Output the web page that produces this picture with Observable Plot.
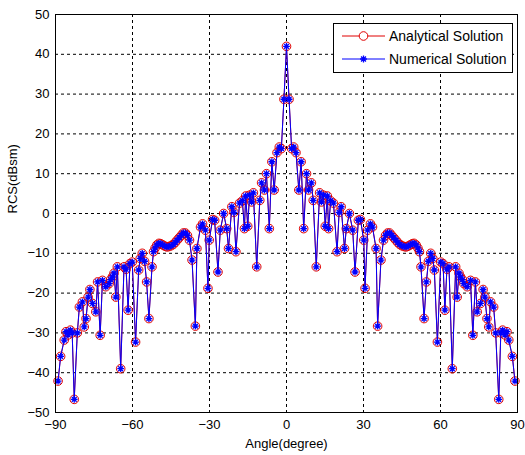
<!DOCTYPE html>
<html>
<head>
<meta charset="utf-8">
<script src="https://cdn.jsdelivr.net/npm/d3@7"></script>
<script src="https://cdn.jsdelivr.net/npm/@observablehq/plot@0.6"></script>
<style>
  html, body { margin: 0; padding: 0; background: #ffffff; }
  #chart { width: 525px; height: 455px; }
</style>
</head>
<body>
<div id="chart"></div>
<script>
// ---- data (symmetric pattern) ----
const anglesLeft = [-89, -88, -86.6, -85.9, -85.1, -84.2, -83.5, -82.7, -81.5, -80.7, -79.5, -78.8, -78.1, -77.3, -76.6, -75.6, -74.3, -73.6, -72.6, -71.7, -70.4, -69.1, -68.5, -67.8, -67.2, -66.5, -65.9, -64.6, -63.3, -62.5, -61.7, -61, -60.1, -58.8, -57.6, -57, -56.2, -55.3, -54.5, -53.6, -52.4, -51.8, -51.2, -50.5, -49.7, -49, -48.2, -47.4, -46.6, -45.8, -45, -44.2, -43.4, -42.6, -41.8, -41, -40.2, -39.4, -38.6, -37.8, -36.8, -35.5, -34.9, -33.5, -32.7, -31.6, -30.6, -30.1, -28.8, -28, -26.7, -25.8, -24.5, -23.3, -22.6, -21.3, -20.5, -19.7, -18.3, -17.2, -16.4, -15.9, -15.1, -14.4, -13.6, -12.9, -11.6, -10.4, -9.7, -8.6, -7.8, -6.7, -5.7, -4.8, -3.7, -2.8, -2, -1];
const rcsLeft = [-42.1, -35.9, -31.8, -29.7, -30.5, -29.3, -30, -46.7, -30, -23.5, -22.2, -28.5, -26.4, -21, -19.1, -22.6, -24.7, -17.2, -30.6, -16.8, -18.4, -17.6, -16.6, -15.9, -15, -21, -13.4, -39, -13.4, -14, -24.3, -12.6, -12.2, -32.3, -14.2, -11.3, -10, -12, -17.2, -26.4, -13.4, -9.6, -8.7, -7.9, -7.5, -7.6, -7.9, -8.2, -8.4, -8.3, -8.1, -7.8, -7.3, -6.7, -6.1, -5.5, -4.9, -4.9, -5.5, -6.7, -11.7, -28.3, -8.8, -3.4, -2.6, -4.2, -18.8, -6.7, -1.5, -1.7, -14.7, -4.2, 0, -3.8, -8.8, 1.7, 0.3, -9.6, 2.6, 3.2, -3.8, 4.4, -3.2, 4.6, 2.9, 5.2, -13.4, 3.3, 7.7, 5.9, 10, -3.8, 13, 5.9, 15.3, 16.7, 16.3, 28.7];
const anglesCenter = [0];
const rcsCenter = [42];
const anglesRight = [1, 2, 2.8, 3.7, 4.8, 5.7, 6.7, 7.8, 8.6, 9.7, 10.4, 11.6, 12.9, 13.6, 14.4, 15.1, 15.9, 16.4, 17.2, 18.3, 19.7, 20.5, 21.3, 22.6, 23.3, 24.5, 25.8, 26.7, 28, 28.8, 30.1, 30.6, 31.6, 32.7, 33.5, 34.9, 35.5, 36.8, 37.8, 38.6, 39.4, 40.2, 41, 41.8, 42.6, 43.4, 44.2, 45, 45.8, 46.6, 47.4, 48.2, 49, 49.7, 50.5, 51.2, 51.8, 52.4, 53.6, 54.5, 55.3, 56.2, 57, 57.6, 58.8, 60.1, 61, 61.7, 62.5, 63.3, 64.6, 65.9, 66.5, 67.2, 67.8, 68.5, 69.1, 70.4, 71.7, 72.6, 73.6, 74.3, 75.6, 76.6, 77.3, 78.1, 78.8, 79.5, 80.7, 81.5, 82.7, 83.5, 84.2, 85.1, 85.9, 86.6, 88, 89];
const rcsRight = [28.7, 16.3, 16.7, 15.3, 5.9, 13, -3.8, 10, 5.9, 7.7, 3.3, -13.4, 5.2, 2.9, 4.6, -3.2, 4.4, -3.8, 3.2, 2.6, -9.6, 0.3, 1.7, -8.8, -3.8, 0, -4.2, -14.7, -1.7, -1.5, -6.7, -18.8, -4.2, -2.6, -3.4, -8.8, -28.3, -11.7, -6.7, -5.5, -4.9, -4.9, -5.5, -6.1, -6.7, -7.3, -7.8, -8.1, -8.3, -8.4, -8.2, -7.9, -7.6, -7.5, -7.9, -8.7, -9.6, -13.4, -26.4, -17.2, -12, -10, -11.3, -14.2, -32.3, -12.2, -12.6, -24.3, -14, -13.4, -39, -13.4, -21, -15, -15.9, -16.6, -17.6, -18.4, -16.8, -30.6, -17.2, -24.7, -22.6, -19.1, -21, -26.4, -28.5, -22.2, -23.5, -30, -46.7, -30, -29.3, -30.5, -29.7, -31.8, -35.9, -42.1];

const xTicks = [-90, -60, -30, 0, 30, 60, 90];
const yTicks = [-50, -40, -30, -20, -10, 0, 10, 20, 30, 40, 50];
const seriesNames = ["Analytical Solution", "Numerical Solution"];
const xTitle = "Angle(degree)";
const yTitle = "RCS(dBsm)";

// ---- build tables ----
const angles = [...anglesLeft, ...anglesCenter, ...anglesRight];
const rcsAnalytical = [...rcsLeft, ...rcsCenter, ...rcsRight];
const rcsNumerical = [...rcsLeft, ...rcsCenter, ...rcsRight];
const analytical = angles.map((a, i) => ({angle: a, rcs: rcsAnalytical[i]}));
const numerical = angles.map((a, i) => ({angle: a, rcs: rcsNumerical[i]}));

// MATLAB-like "*" marker (+ and x)
const asterisk = {
  draw(ctx, size) {
    const r = Math.sqrt(size / Math.PI);
    const d = r * 0.72;
    ctx.moveTo(-r, 0); ctx.lineTo(r, 0);
    ctx.moveTo(0, -r); ctx.lineTo(0, r);
    ctx.moveTo(-d, -d); ctx.lineTo(d, d);
    ctx.moveTo(-d, d); ctx.lineTo(d, -d);
  }
};

const font = "'Liberation Sans', Arial, Helvetica, sans-serif";

const chart = Plot.plot({
  width: 525,
  height: 455,
  marginLeft: 55,
  marginRight: 8,
  marginTop: 14,
  marginBottom: 43,
  style: {fontFamily: font, fontSize: "13px", background: "#ffffff", color: "#000"},
  x: {domain: [-90, 90], label: null},
  y: {domain: [-50, 50], label: null},
  marks: [
    Plot.gridX(xTicks, {stroke: "#000", strokeOpacity: 1, strokeWidth: 1, strokeDasharray: "3,3"}),
    Plot.gridY(yTicks, {stroke: "#000", strokeOpacity: 1, strokeWidth: 1, strokeDasharray: "3,3"}),
    Plot.axisX(xTicks, {tickSize: 0, tickPadding: 7, fontSize: 13, label: null}),
    Plot.axisY(yTicks, {tickSize: 0, tickPadding: 6, fontSize: 13, label: null}),
    Plot.line(analytical, {x: "angle", y: "rcs", stroke: "#e00000", strokeWidth: 1}),
    Plot.dot(analytical, {x: "angle", y: "rcs", r: 4.3, stroke: "#e00000", strokeWidth: 1, fill: "none"}),
    Plot.line(numerical, {x: "angle", y: "rcs", stroke: "#0000ff", strokeWidth: 1}),
    Plot.dot(numerical, {x: "angle", y: "rcs", r: 3.4, symbol: asterisk, stroke: "#0000ff", strokeWidth: 1.3}),
    Plot.frame({stroke: "#000", strokeWidth: 1}),
    Plot.text([xTitle], {frameAnchor: "bottom", dy: 35, fontSize: 13, fill: "#000"}),
    Plot.text([yTitle], {frameAnchor: "left", dx: -43, rotate: -90, fontSize: 13, fill: "#000"})
  ]
});

document.getElementById("chart").appendChild(chart);

// ---- legend inside the axes (top right) ----
const svg = d3.select(chart);
const lg = svg.append("g").attr("font-family", font).attr("font-size", 14).attr("text-anchor", "start");
lg.append("rect").attr("x", 333.5).attr("y", 23.5).attr("width", 179).attr("height", 49)
  .attr("fill", "#fff").attr("stroke", "#000").attr("stroke-width", 1);
const legendColors = ["#e00000", "#0000ff"];
seriesNames.forEach((name, i) => {
  const yy = 36 + i * 23;
  lg.append("line").attr("x1", 342).attr("x2", 385).attr("y1", yy).attr("y2", yy)
    .attr("stroke", legendColors[i]).attr("stroke-width", 1);
  if (i === 0) {
    lg.append("circle").attr("cx", 363.5).attr("cy", yy).attr("r", 4.3)
      .attr("fill", "#fff").attr("stroke", legendColors[i]);
  } else {
    lg.append("path").attr("transform", `translate(363.5,${yy})`)
      .attr("d", d3.symbol(asterisk, Math.PI * 3.4 * 3.4)())
      .attr("stroke", legendColors[i]).attr("stroke-width", 1.3).attr("fill", "none");
  }
  lg.append("text").attr("x", 389).attr("y", yy).attr("dy", "0.35em")
    .attr("text-anchor", "start").attr("fill", "#000").text(name);
});
</script>
</body>
</html>
